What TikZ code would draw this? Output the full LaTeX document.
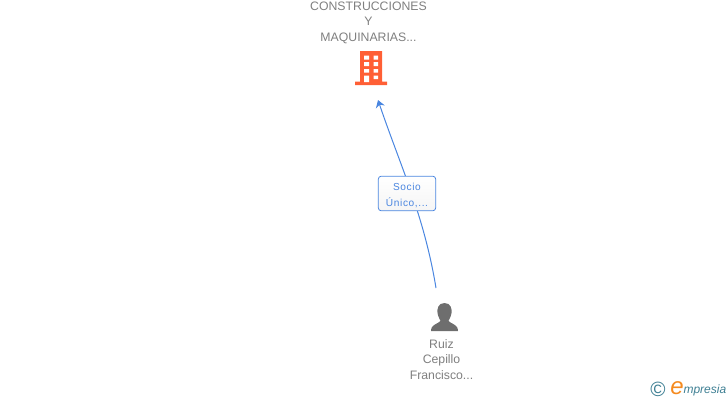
\documentclass[tikz,border=0pt]{standalone}
\usepackage{fontspec}
\setmainfont{Liberation Sans}
\usetikzlibrary{positioning}
\usetikzlibrary{arrows.meta,arrows}
\definecolor{azul}{HTML}{4A86E0}
\definecolor{gris}{HTML}{7F7F7F}
\definecolor{naranja}{HTML}{FF5F35}
\definecolor{icono}{HTML}{6E6E6E}
\definecolor{teal}{HTML}{3E7F93}
\definecolor{logo}{HTML}{F58A1F}
\newfontfamily\relfont[LetterSpace=6]{Liberation Sans}
\begin{document}
\begin{tikzpicture}[x=0.75pt,y=-0.75pt, thick,
  main/.style={align=center,text=gris,font=\fontsize{9.2}{11.6}\selectfont,inner sep=0pt},
  rel/.style={draw=azul,rounded corners=2.2pt,line width=0.6pt,top color=white,bottom color=black!4,text=azul,align=center,font=\relfont\fontsize{7.6}{12}\selectfont,minimum width=43pt,minimum height=26pt,inner sep=0pt},
  ar/.style={azul,line width=0.75pt,-{Stealth[length=5.5pt,width=7pt]}}]
  \path[use as bounding box] (0,0) rectangle (728,400);

  \node[main] (1) at (368.5,22.5) {CONSTRUCCIONES\\Y\\MAQUINARIAS...};
  \node[main] (2) at (441.5,359.5) {Ruiz\\Cepillo\\Francisco...};
  \coordinate (3) at (378,100);
  \coordinate (4) at (436,288);

  % edificio
  \fill[naranja] (360,51) rectangle (382,82) (355,81.5) rectangle (387,85);
  \fill[white] (364,55.5) rectangle (369,59.5) (373.5,55.5) rectangle (378,59.5)
    (364,62) rectangle (369,66) (373.5,62) rectangle (378,66)
    (364,69) rectangle (369,72.5) (373.5,69) rectangle (378,72.5)
    (364,75.5) rectangle (369,82) (373.5,75.5) rectangle (378,79);

  % persona
  \fill[icono] (444.5,303) .. controls (438,303) and (437,309) .. (437.5,313)
    .. controls (438,317) and (440,319) .. (440.5,321)
    .. controls (438,324) and (431,324) .. (431,331) -- (458,331)
    .. controls (458,324) and (451,324) .. (448.5,321)
    .. controls (449,319) and (451,317) .. (451.5,313)
    .. controls (452,309) and (451,303) .. (444.5,303) -- cycle;

  \draw[ar] (4) .. controls (424,215) and (400,165) .. (3);
  \node[rel] (5) at (407,193.5) {\rule{0pt}{8.5pt}Socio\\Único,...};

  % logo
  \node[text=teal,font=\fontsize{15.5}{15.5}\selectfont,inner sep=0pt] (6) at (658,389.5) {©};
  \node[text=logo,font=\fontsize{18}{18}\selectfont\itshape,inner sep=0pt] (7) at (677,388) {e};
  \node[text=teal,font=\fontsize{9}{10}\selectfont\itshape,inner sep=0pt,anchor=west] (8) at (683,390) {mpresia};
\end{tikzpicture}
\end{document}
